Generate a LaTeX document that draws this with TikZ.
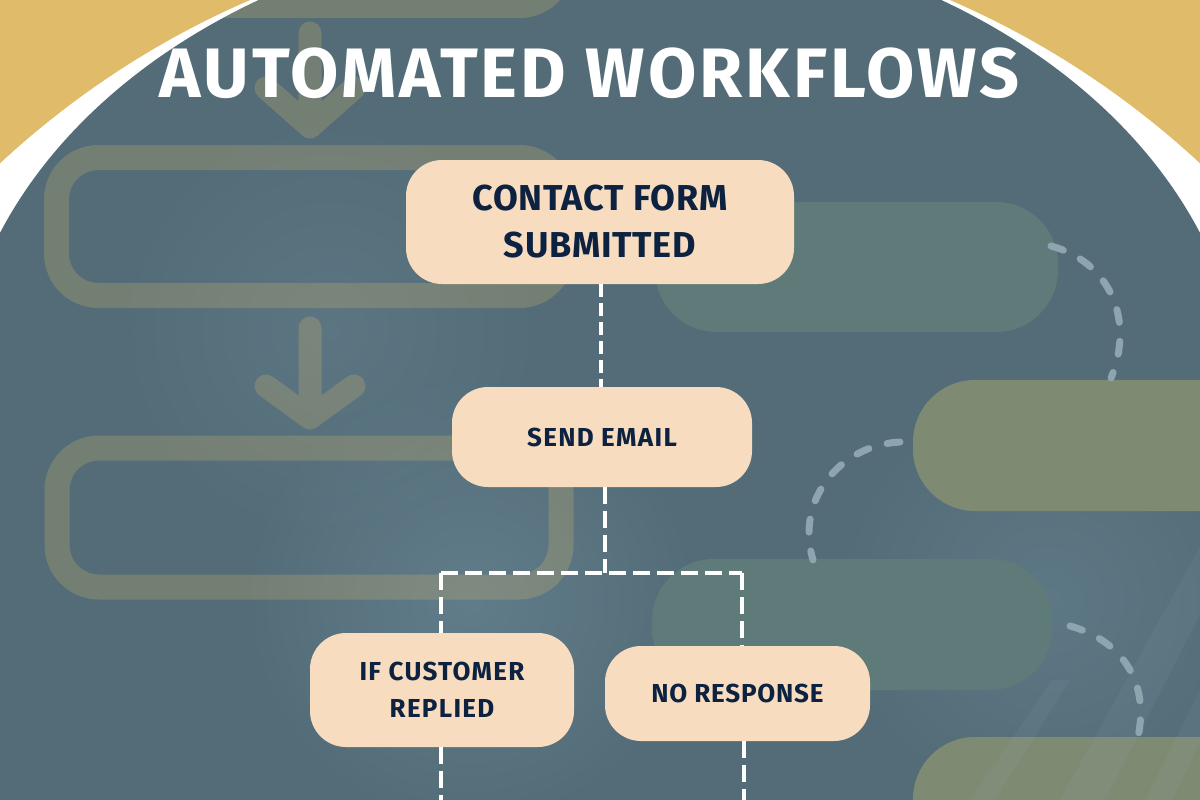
\documentclass[tikz,border=0pt]{standalone}
\usepackage{fontspec}
\setmainfont{Fira Sans}
\usetikzlibrary{fadings}
\definecolor{gold}{HTML}{E0BC6A}
\definecolor{darkbg}{HTML}{536C78}
\definecolor{peach}{HTML}{F7DCBF}
\definecolor{navy}{HTML}{0C2240}
\definecolor{tealpill}{HTML}{5F7B79}
\definecolor{olivepill}{HTML}{7F8A73}
\definecolor{dashblue}{HTML}{8EA5AF}
\definecolor{glow}{HTML}{5C8397}
\tikzfading[name=softblob, inner color=transparent!0, outer color=transparent!100]
\begin{document}
\begin{tikzpicture}[x=1pt,y=-1pt,
  stepbox/.style={fill=peach, rounded corners=36pt, inner sep=0pt, align=center, text=navy},
  flow/.style={draw=white, line width=4.5pt, dash pattern=on 17pt off 7pt},
  decorect/.style={draw=gold, draw opacity=0.24, line width=25pt, rounded corners=42pt},
  decoarrow/.style={draw=gold, draw opacity=0.24, line width=23pt, line cap=round, line join=round},
  pill/.style={rounded corners=62pt},
  loopdash/.style={draw=dashblue, line width=7pt, line cap=round, dash pattern=on 13pt off 19pt},
  blob/.style={fill=glow!80!white, fill opacity=0.35, path fading=softblob},
  streak/.style={fill=glow!70!white, fill opacity=0.10}]
\useasboundingbox (0,0) rectangle (1200,800);
\begin{scope}
\clip (0,0) rectangle (1200,800);
\fill[gold] (0,0) rectangle (1200,800);
\fill[white] (600,810) circle (882);
\fill[darkbg] (-44,408) arc[start angle=180, end angle=360, x radius=644, y radius=481] -- (1244,900) -- (-44,900) -- cycle;
\begin{scope}
\clip (-44,408) arc[start angle=180, end angle=360, x radius=644, y radius=481] -- (1244,900) -- (-44,900) -- cycle;
% soft lighter areas
\fill[blob] (470,600) circle (230);
\fill[blob, fill opacity=0.2] (330,330) circle (220);
\fill[blob, fill opacity=0.25] (1050,600) circle (220);
% left outlined flow shapes
\draw[decorect] (56.5,-150) rectangle (561.5,5.5);
\draw[decoarrow] (310,33) -- (310,127) (266,88) -- (310,127) -- (354,88);
\draw[decorect] (56.5,157.5) rectangle (561.5,295.5);
\draw[decoarrow] (310,328) -- (310,418) (266,386) -- (310,418) -- (354,386);
\draw[decorect] (57,448) rectangle (561,587);
% right pills
\fill[tealpill, pill] (655,202) rectangle (1058,332);
\fill[olivepill, pill] (913,380) rectangle (1262,511);
\fill[tealpill, pill] (652,559) rectangle (1052,690);
\fill[olivepill, pill] (913,737) rectangle (1262,870);
% dashed loops
\draw[loopdash] (1051,246) .. controls (1110,262) and (1135,320) .. (1111,378);
\draw[loopdash] (900,442) .. controls (840,445) and (795,500) .. (813,560);
\draw[loopdash] (1070,626) .. controls (1120,640) and (1150,680) .. (1138,737);
% light streaks
\fill[streak] (1060,800) -- (1105,800) -- (1215,585) -- (1215,520) -- cycle;
\fill[streak] (1145,800) -- (1172,800) -- (1215,710) -- (1215,660) -- cycle;
\fill[streak] (970,800) -- (995,800) -- (1070,680) -- (1052,680) -- cycle;
\end{scope}
\end{scope}
% title
\node[anchor=base, text=white, font=\bfseries\fontsize{70}{80}\selectfont\addfontfeatures{LetterSpace=4.3}] (title) at (589.5,98) {AUTOMATED WORKFLOWS};
% flow nodes
\node[stepbox, minimum width=388pt, minimum height=124pt, font=\bfseries\fontsize{36}{47}\selectfont\addfontfeatures{LetterSpace=2}] (contact) at (600,222) {CONTACT FORM\\SUBMITTED};
\node[stepbox, minimum width=300pt, minimum height=100pt, font=\bfseries\fontsize{26}{30}\selectfont\addfontfeatures{LetterSpace=5}] (send) at (602,437) {SEND EMAIL};
\node[stepbox, minimum width=264pt, minimum height=114pt, font=\bfseries\fontsize{26}{36.5}\selectfont\addfontfeatures{LetterSpace=5}] (ifn) at (442,690) {IF CUSTOMER\\REPLIED};
\node[stepbox, minimum width=265pt, minimum height=95pt, font=\bfseries\fontsize{26}{30}\selectfont\addfontfeatures{LetterSpace=3}] (non) at (737.5,693.5) {NO RESPONSE};
% connectors
\coordinate (j) at (605,573);
\coordinate (jl) at (441,573);
\coordinate (jr) at (742,573);
\coordinate (bl) at (441,806);
\coordinate (br) at (744,806);
\draw[flow, dash pattern=on 13pt off 6pt] (contact.south -| 601,0) -- (send.north -| 601,0);
\draw[flow] (send.south -| j) -- (j);
\draw[flow] (jl) -- (jr);
\draw[flow] (jl) -- (ifn.north -| jl);
\draw[flow] (jr) -- (non.north -| jr);
\draw[flow] (ifn.south -| bl) -- (bl);
\draw[flow] (non.south -| br) -- (br);
\end{tikzpicture}
\end{document}
